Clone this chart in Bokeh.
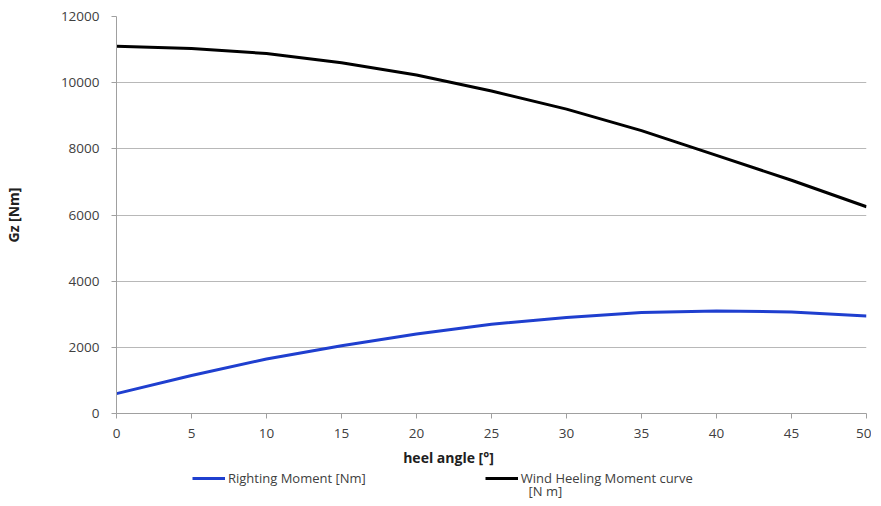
from bokeh.plotting import figure
from bokeh.models import Range1d, FixedTicker, Legend, LegendItem, Label
from bokeh.layouts import column
from bokeh.embed import file_html
from bokeh.resources import INLINE

heel_angle = [0, 5, 10, 15, 20, 25, 30, 35, 40, 45, 50]
righting_moment = [600, 1150, 1650, 2050, 2400, 2700, 2900, 3050, 3100, 3070, 2950]
wind_heeling = [11100, 11030, 10880, 10600, 10230, 9750, 9200, 8550, 7800, 7050, 6250]
x_ticks = [0, 5, 10, 15, 20, 25, 30, 35, 40, 45, 50]
y_ticks = [0, 2000, 4000, 6000, 8000, 10000, 12000]

FONT = "Open Sans"
BLUE = "#1f3fcf"
W = 871

p = figure(width=W, height=446, output_backend="svg", toolbar_location=None,
           x_range=Range1d(0, 50), y_range=Range1d(0, 12000),
           min_border_left=108, min_border_right=5, min_border_top=16, min_border_bottom=33)
p.outline_line_color = None

p.line(heel_angle, righting_moment, line_color=BLUE, line_width=3)
p.line(heel_angle, wind_heeling, line_color="#000000", line_width=3)

p.xaxis.ticker = FixedTicker(ticks=x_ticks)
p.yaxis.ticker = FixedTicker(ticks=y_ticks)
for ax in (p.xaxis[0], p.yaxis[0]):
    ax.axis_line_color = "#a0a0a0"
    ax.major_tick_line_color = "#a0a0a0"
    ax.minor_tick_line_color = None
    ax.major_tick_in = 0
    ax.major_tick_out = 5
    ax.major_label_text_font = FONT
    ax.major_label_text_font_size = "13.5px"
    ax.major_label_text_color = "#404040"
    ax.axis_label_text_font = FONT
    ax.axis_label_text_font_style = "bold"
    ax.axis_label_text_font_size = "14px"
    ax.axis_label_text_color = "#202020"
p.yaxis.major_label_standoff = 12
p.xaxis.major_label_standoff = 10
p.yaxis.axis_label = "Gz [Nm]"
p.yaxis.axis_label_standoff = 35

p.xgrid.grid_line_color = None
p.ygrid.grid_line_color = "#b8b8b8"
p.ygrid.grid_line_width = 1

# lower strip: x-axis title and legend (positions relative to the aligned plot frame)
q = figure(width=W, height=52, output_backend="svg", toolbar_location=None,
           x_axis_location=None, y_axis_location=None,
           x_range=Range1d(0, 750), y_range=Range1d(0, 52), min_border=0)
q.outline_line_color = None
q.grid.visible = False

# legend proxies: the same series, which lie outside this strip's range
lr1 = q.line(heel_angle, righting_moment, line_color=BLUE, line_width=3)
lr2 = q.line(heel_angle, wind_heeling, line_color="#000000", line_width=3)

q.add_layout(Label(x=332, y=41, x_units="screen", y_units="screen", text="heel angle [°]",
                   text_align="center", text_baseline="middle",
                   text_font=FONT, text_font_style="bold", text_font_size="14px", text_color="#202020"))

legend = Legend(items=[LegendItem(label="Righting Moment [Nm]", renderers=[lr1]),
                       LegendItem(label="Wind Heeling Moment curve", renderers=[lr2])],
                orientation="horizontal", location=(76, 11),
                label_text_font=FONT, label_text_font_size="13px", label_text_color="#404040",
                label_height=16, glyph_width=33, glyph_height=16, label_standoff=3, spacing=119,
                padding=0, margin=0, border_line_color=None, background_fill_alpha=0)
q.add_layout(legend, "center")

q.add_layout(Label(x=412, y=8, x_units="screen", y_units="screen", text="[N m]",
                   text_align="left", text_baseline="middle",
                   text_font=FONT, text_font_size="13px", text_color="#404040"))

layout = column(p, q, spacing=0)
open("out.html", "w").write(file_html(layout, INLINE))
